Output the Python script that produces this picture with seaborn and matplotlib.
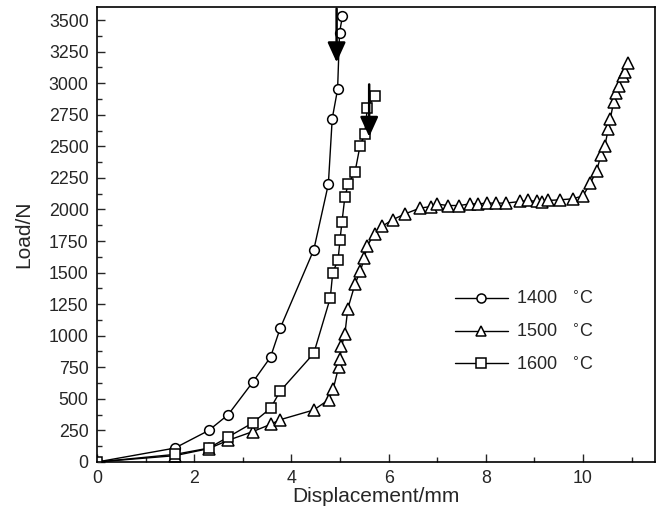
import numpy as np
import pandas as pd
import matplotlib
matplotlib.use("Agg")
import matplotlib.pyplot as plt
import seaborn as sns
from matplotlib.ticker import MultipleLocator

sns.set_style("white")
plt.rcParams['font.family'] = ['Liberation Sans', 'DejaVu Sans']

# Load-displacement data
x_1400 = [0, 1.6, 2.3, 2.7, 3.2, 3.57, 3.77, 4.46, 4.76, 4.84, 4.95, 4.99, 5.05]
y_1400 = [0, 110, 250, 375, 630, 830, 1060, 1680, 2200, 2720, 2950, 3400, 3530]

x_1500 = [0, 1.6, 2.3, 2.7, 3.2, 3.57, 3.77, 4.46, 4.77, 4.86, 4.97, 5.0, 5.03, 5.1,
          5.16, 5.31, 5.42, 5.5, 5.56, 5.71, 5.86, 6.08, 6.34, 6.64, 6.87, 7.0, 7.22,
          7.45, 7.68, 7.84, 8.03, 8.2, 8.41, 8.71, 8.87, 9.05, 9.16, 9.28, 9.52, 9.79,
          10.0, 10.15, 10.28, 10.37, 10.45, 10.52, 10.56, 10.63, 10.68, 10.73, 10.83,
          10.87, 10.92]
y_1500 = [0, 50, 106, 172, 240, 298, 335, 412, 494, 578, 749, 818, 915, 1013,
          1213, 1411, 1514, 1615, 1712, 1807, 1865, 1918, 1965, 2010, 2023, 2042, 2031,
          2031, 2044, 2044, 2050, 2050, 2050, 2063, 2071, 2063, 2060, 2071, 2076, 2084,
          2108, 2208, 2305, 2432, 2506, 2638, 2714, 2854, 2920, 2980, 3057,
          3091, 3162]

x_1600 = [0, 1.6, 2.3, 2.7, 3.2, 3.57, 3.77, 4.46, 4.8, 4.85, 4.96, 5.0, 5.04, 5.1,
          5.17, 5.31, 5.41, 5.51, 5.56, 5.71]
y_1600 = [0, 60, 110, 198, 309, 425, 562, 860, 1300, 1500, 1600, 1760, 1900, 2100,
          2200, 2300, 2500, 2600, 2800, 2900]

labels = ['1400   $^{\\circ}$C', '1500   $^{\\circ}$C', '1600   $^{\\circ}$C']

# failure arrows (x, top, tip)
arrow_1400 = (4.93, 3590, 3165)
arrow_1600 = (5.6, 2990, 2575)

fig = plt.figure(figsize=(6.58, 5.11), dpi=100)
ax = fig.add_axes([0.1474, 0.0959, 0.8480, 0.8904])

series = [(x_1400, y_1400, 'o', 7), (x_1500, y_1500, '^', 8.5), (x_1600, y_1600, 's', 6.5)]
for (xs, ys, mk, ms), lab in zip(series, labels):
    df = pd.DataFrame({'Displacement': xs, 'Load': ys})
    sns.lineplot(data=df, x='Displacement', y='Load', ax=ax, estimator=None, sort=False,
                 color='black', lw=1, marker=mk, markersize=ms, markerfacecolor='white',
                 markeredgecolor='black', markeredgewidth=1.1, label=lab)

for ax_x, top, tip in [arrow_1400, arrow_1600]:
    ax.annotate('', xy=(ax_x, tip), xytext=(ax_x, top),
                arrowprops=dict(arrowstyle='-|>,head_length=0.55,head_width=0.25',
                                color='black', lw=1.8, mutation_scale=22,
                                shrinkA=0, shrinkB=0))

ax.set_xlim(0, 11.48)
ax.set_ylim(0, 3603)
ax.xaxis.set_major_locator(MultipleLocator(2))
ax.xaxis.set_minor_locator(MultipleLocator(1))
ax.yaxis.set_major_locator(MultipleLocator(250))
ax.yaxis.set_minor_locator(MultipleLocator(125))
ax.tick_params(which='both', direction='in', top=False, right=False, left=True, bottom=True)
ax.tick_params(which='major', length=6, width=1, labelsize=12.8, pad=6)
ax.tick_params(which='minor', length=3.5, width=1)
for s in ax.spines.values():
    s.set_linewidth(1.2)
    s.set_color('black')

ax.set_xlabel('Displacement/mm', fontsize=15, labelpad=0)
ax.set_ylabel('Load/N', fontsize=15, labelpad=11)

leg = ax.legend(loc='center left', bbox_to_anchor=(0.612, 0.285), frameon=False,
                fontsize=13, handlelength=2.95, labelspacing=0.85, handletextpad=0.45)
for h in leg.legend_handles:
    h.set_markersize(6.5)

fig.savefig('out.png', dpi=100)
